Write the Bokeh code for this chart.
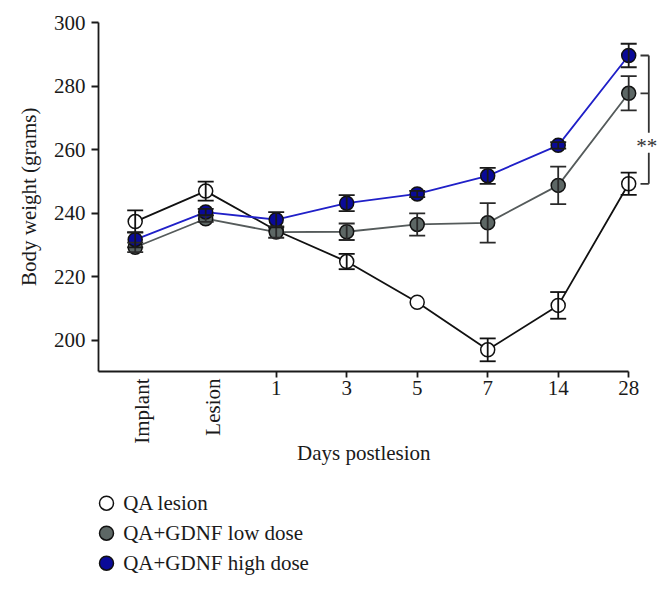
import math
from bokeh.plotting import figure
from bokeh.models import Range1d, FixedTicker, Whisker, TeeHead, ColumnDataSource
from bokeh.core.properties import value
from bokeh.embed import file_html
from bokeh.resources import INLINE

# ---- data ----
categories = ["Implant", "Lesion", "1", "3", "5", "7", "14", "28"]
qa_lesion = [237.3, 246.9, 234.5, 224.7, 211.9, 196.9, 210.9, 249.2]
qa_lesion_err = [3.5, 3.0, 0.0, 2.4, 0.0, 3.6, 4.2, 3.5]
low_dose = [229.2, 238.2, 234.0, 234.1, 236.4, 236.9, 248.7, 277.7]
low_dose_err = [1.5, 1.0, 1.8, 2.6, 3.5, 6.2, 5.9, 5.4]
high_dose = [231.6, 240.3, 237.9, 243.1, 246.0, 251.7, 261.3, 289.6]
high_dose_err = [2.4, 1.0, 2.4, 2.5, 1.0, 2.5, 1.0, 3.7]
series_names = ["QA lesion", "QA+GDNF low dose", "QA+GDNF high dose"]
y_ticks = [200, 220, 240, 260, 280, 300]
y_min, y_max = 190.2, 300
x_label = "Days postlesion"
y_label = "Body weight (grams)"
significance = "**"

FONT = "Liberation Serif"
FS = "21px"
INK = "#1a1a1a"

# ---- layout geometry (pixels) ----
W, H = 663, 588
X0_PX, DX_PX = 134.7, 70.5        # pixel of first category, spacing
Y_TOP_PX, PX_PER_UNIT = 22.0, 3.175  # pixel of y_max, pixels per gram


def dx(px):
    return (px - X0_PX) / DX_PX


def dy(py):
    return y_max - (py - Y_TOP_PX) / PX_PER_UNIT


x = list(range(len(categories)))
rotated = ["Implant", "Lesion"]
x_left = dx(98)

p = figure(width=W, height=H, output_backend="svg", toolbar_location=None,
           x_range=Range1d(dx(0), dx(W)), y_range=Range1d(dy(H), dy(0)),
           min_border=0)
p.outline_line_color = None
p.grid.visible = False
p.background_fill_color = "white"

for ax in (p.xaxis[0], p.yaxis[0]):
    ax.axis_line_color = INK
    ax.axis_line_width = 1.8
    ax.major_tick_line_color = INK
    ax.major_tick_line_width = 1.8
    ax.major_tick_in = 0
    ax.minor_tick_line_color = None
    ax.major_label_text_font = FONT
    ax.major_label_text_font_size = FS
    ax.major_label_text_color = INK

p.xaxis.fixed_location = y_min
p.xaxis.bounds = (x_left, len(categories) - 1)
tick_idx = [i for i, c in enumerate(categories) if c not in rotated]
p.xaxis.ticker = FixedTicker(ticks=tick_idx)
p.xaxis.major_label_overrides = {i: categories[i] for i in tick_idx}
p.xaxis.major_tick_out = 6
p.xaxis.major_label_standoff = 4

p.yaxis.fixed_location = x_left
p.yaxis.bounds = (y_min, y_max)
p.yaxis.ticker = FixedTicker(ticks=y_ticks)
p.yaxis.major_tick_out = 7
p.yaxis.major_label_standoff = 6

# axis titles and rotated category labels
p.text([dx(28.3)], [(y_min + y_max) / 2], text=[y_label], angle=math.pi / 2,
       text_align="center", text_baseline="middle", text_font=value(FONT),
       text_font_size=FS, text_color=INK)
rot_idx = [i for i, c in enumerate(categories) if c in rotated]
p.text(rot_idx, [dy(378)] * len(rot_idx), text=[categories[i] for i in rot_idx],
       x_offset=7, angle=math.pi / 2, text_align="right", text_baseline="middle",
       text_font=value(FONT), text_font_size=FS, text_color=INK)
p.text([dx(363.3)], [dy(452.7)], text=[x_label], text_align="center",
       text_baseline="middle", text_font=value(FONT), text_font_size=FS,
       text_color=INK)

styles = [
    dict(fill="white", line="#111111", err="#111111"),
    dict(fill="#5d6765", line="#555b5b", err="#2a2a2a"),
    dict(fill="#0a0a98", line="#2020c8", err="#1a1a1a"),
]
data = [(qa_lesion, qa_lesion_err), (low_dose, low_dose_err), (high_dose, high_dose_err)]

for (vals, errs), st in zip(data, styles):
    p.line(x, vals, line_color=st["line"], line_width=1.8)

for (vals, errs), st in zip(data, styles):
    xs = [xi for xi, e in zip(x, errs) if e > 0]
    up = [v + e for v, e in zip(vals, errs) if e > 0]
    lo = [v - e for v, e in zip(vals, errs) if e > 0]
    src = ColumnDataSource(dict(x=xs, upper=up, lower=lo))
    w = Whisker(base="x", upper="upper", lower="lower", source=src,
                line_color=st["err"], line_width=1.8,
                upper_head=TeeHead(size=16, line_color=st["err"], line_width=1.8),
                lower_head=TeeHead(size=16, line_color=st["err"], line_width=1.8))
    w.level = "glyph"
    p.add_layout(w)

for (vals, errs), st in zip(data, styles):
    p.scatter(x, vals, size=14, fill_color=st["fill"], line_color="#111111",
              line_width=1.5)

# significance bracket
last = len(categories) - 1
bx = last + (648.3 - (X0_PX + last * DX_PX)) / DX_PX
tick_left = last + (640 - (X0_PX + last * DX_PX)) / DX_PX
ends = [high_dose[-1], low_dose[-1], qa_lesion[-1]]
star_y = dy(142.3)
gap = 10 / PX_PER_UNIT
p.segment(x0=[bx, bx], y0=[high_dose[-1], star_y - gap], x1=[bx, bx],
          y1=[star_y + gap, qa_lesion[-1]], line_color="#333333", line_width=1.8)
p.segment(x0=[tick_left] * 3, y0=ends, x1=[bx] * 3, y1=ends,
          line_color="#333333", line_width=1.8)
p.text([bx - 0.2 / DX_PX * 10], [star_y], text=[significance], y_offset=3,
       text_align="center", text_baseline="middle", text_font=value(FONT),
       text_font_size=FS, text_color="#333333")

# legend
ly = [dy(502.7 + 30 * i) for i in range(len(series_names))]
p.scatter([dx(106)] * 3, ly, size=14, fill_color=[s["fill"] for s in styles],
          line_color="#111111", line_width=1.5)
p.text([dx(122.7)] * 3, ly, text=series_names, text_font=value(FONT),
       text_font_size=FS, text_baseline="middle", text_color=INK)

open("out.html", "w").write(file_html(p, INLINE))
